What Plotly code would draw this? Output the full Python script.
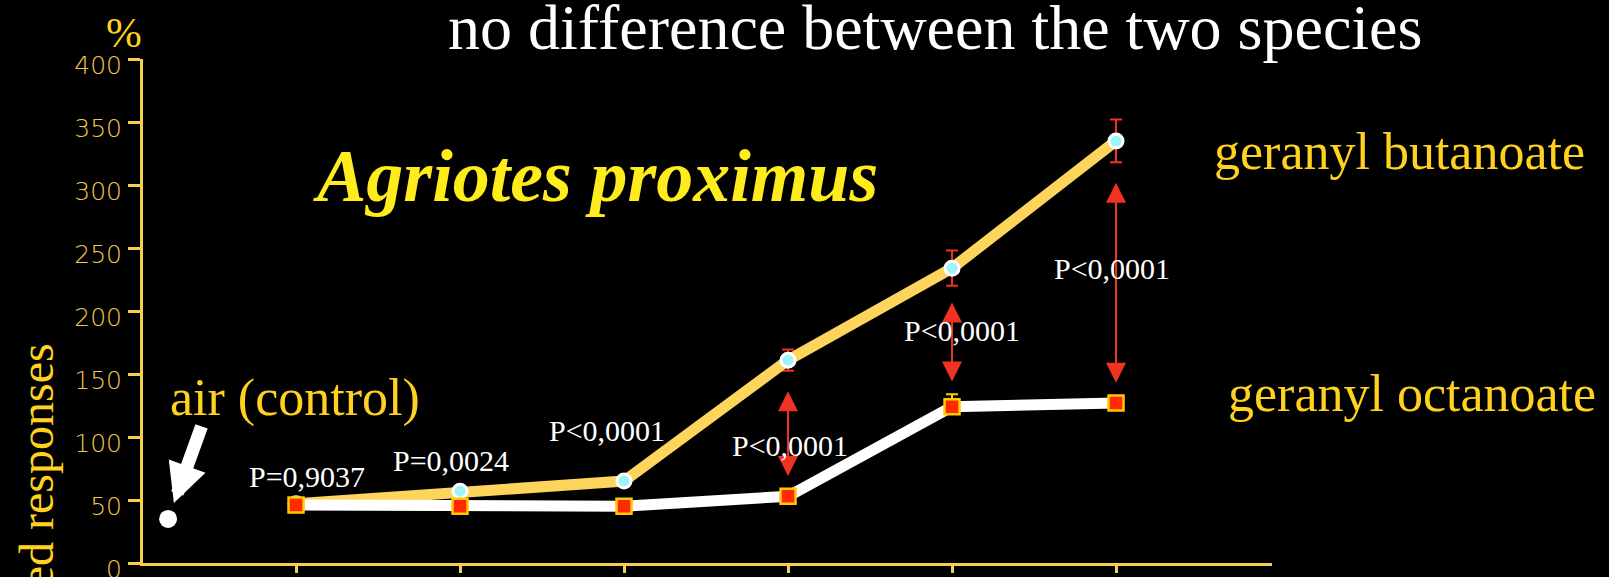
import plotly.graph_objects as go

# --- data -------------------------------------------------------------
doses = [1, 2, 3, 4, 5, 6]
butanoate = [47, 57, 65, 161, 234, 335]
butanoate_err = [2, 3, 3, 8.5, 14, 17]
octanoate = [46, 45, 45, 53, 124, 127]
octanoate_err_up = [2, 2, 2, 3, 10, 3]
air_x = [0.22]
air_value = [35]

p_labels = ["P=0,9037", "P=0,0024", "P<0,0001", "P<0,0001", "P<0,0001", "P<0,0001"]

# significance arrows between the two curves
arrow_x = [4, 5, 6]
arrow_low = [69, 144, 143]
arrow_high = [137.5, 208, 303]

y_ticks = [0, 50, 100, 150, 200, 250, 300, 350, 400]

# --- layout constants -------------------------------------------------
W, H = 1609, 577
M_L, M_R, M_T, M_B = 143, 337, 59, 14
PW, PH = W - M_L - M_R, H - M_T - M_B

GOLD = "#F7CF4E"
LABEL_GOLD = "#FFD21F"
SPECIES_YELLOW = "#FFEC1C"
RED = "#EE3322"
SERIF = "Liberation Serif, Times New Roman, serif"

# P-value label centres in data units
p_label_pos = [(1.067, 68.5), (1.945, 81.2), (2.894, 105), (4.012, 93.1),
               (5.059, 184.4), (5.976, 233.6)]


def paper(px, py):
    """Canvas pixel position -> paper coordinates."""
    return (px - M_L) / PW, (H - M_B - py) / PH


fig = go.Figure()

fig.add_trace(go.Scatter(
    x=doses, y=butanoate, mode="lines+markers", name="geranyl butanoate",
    line=dict(color="#FDD55C", width=11),
    marker=dict(symbol="circle", size=14, color="#9EF3F7",
                line=dict(color="white", width=3)),
    error_y=dict(type="data", array=butanoate_err, color=RED,
                 thickness=2, width=6),
))

fig.add_trace(go.Scatter(
    x=doses, y=octanoate, mode="lines+markers", name="geranyl octanoate",
    line=dict(color="white", width=11),
    marker=dict(symbol="square", size=15, color="#FF2A00",
                line=dict(color="#FFC800", width=2.5)),
    error_y=dict(type="data", symmetric=False, array=octanoate_err_up,
                 arrayminus=[0] * len(octanoate_err_up),
                 color="#FFD000", thickness=2, width=6),
))

fig.add_trace(go.Scatter(
    x=air_x, y=air_value, mode="markers", name="air (control)",
    marker=dict(symbol="circle", size=18, color="white"),
))

annotations = []

# double-headed red arrows
for xa, lo, hi in zip(arrow_x, arrow_low, arrow_high):
    annotations.append(dict(
        x=xa, y=lo, ax=xa, ay=hi, xref="x", yref="y", axref="x", ayref="y",
        text="", showarrow=True, arrowside="end+start",
        arrowhead=2, startarrowhead=2, arrowsize=2, startarrowsize=2,
        arrowwidth=2, arrowcolor=RED, standoff=0, startstandoff=0,
    ))

# P-value labels
for label, (lx, ly) in zip(p_labels, p_label_pos):
    annotations.append(dict(
        x=lx, y=ly, xref="x", yref="y", showarrow=False,
        text=label.replace("<", "&lt;"), xanchor="center", yanchor="middle",
        font=dict(family=SERIF, size=30, color="white"),
    ))

# white arrow pointing at the control point
annotations.append(dict(
    x=air_x[0], y=air_value[0], xref="x", yref="y", ax=34, ay=-94,
    text="", showarrow=True, arrowhead=2, arrowsize=0.6, arrowwidth=13,
    arrowcolor="white", standoff=17,
))


def text_at(px, py, text, size, color, **kw):
    x, y = paper(px, py)
    d = dict(x=x, y=y, xref="paper", yref="paper", showarrow=False, text=text,
             xanchor="center", yanchor="middle",
             font=dict(family=SERIF, size=size, color=color))
    d.update(kw)
    annotations.append(d)


text_at(935, 27.4, "no difference between the two species", 64, "white")
text_at(124, 32.5, "%", 43, LABEL_GOLD)
text_at(595, 176, "<b><i>Agriotes proximus</i></b>", 74, SPECIES_YELLOW)
text_at(1399, 151.5, "geranyl butanoate", 52, LABEL_GOLD)
text_at(1412, 393, "geranyl octanoate", 52, LABEL_GOLD)
text_at(295, 397.5, "air (control)", 52, LABEL_GOLD)
text_at(36, 342, "Normalized responses", 48, LABEL_GOLD,
        textangle=-90, yanchor="top")

fig.update_layout(
    width=W, height=H,
    margin=dict(l=M_L, r=M_R, t=M_T, b=M_B, pad=0),
    paper_bgcolor="black", plot_bgcolor="black",
    showlegend=False,
    annotations=annotations,
    xaxis=dict(
        range=[0.067, 6.951], tickvals=doses, showticklabels=False,
        ticks="outside", ticklen=7, tickwidth=2.5, tickcolor=GOLD,
        showline=True, linecolor=GOLD, linewidth=3,
        showgrid=False, zeroline=False, automargin=False,
    ),
    yaxis=dict(
        range=[0, 400], tickvals=y_ticks,
        ticks="outside", ticklen=12, tickwidth=2.5, tickcolor=GOLD,
        showline=True, linecolor=GOLD, linewidth=3,
        showgrid=False, zeroline=False, automargin=False,
        tickfont=dict(family="DejaVu Sans", size=25, color="#F2C744",
                      weight=200),
        ticklabelstandoff=1, ticklabelshift=6, ticklabeloverflow="allow",
    ),
)

fig.write_html("out.html")
